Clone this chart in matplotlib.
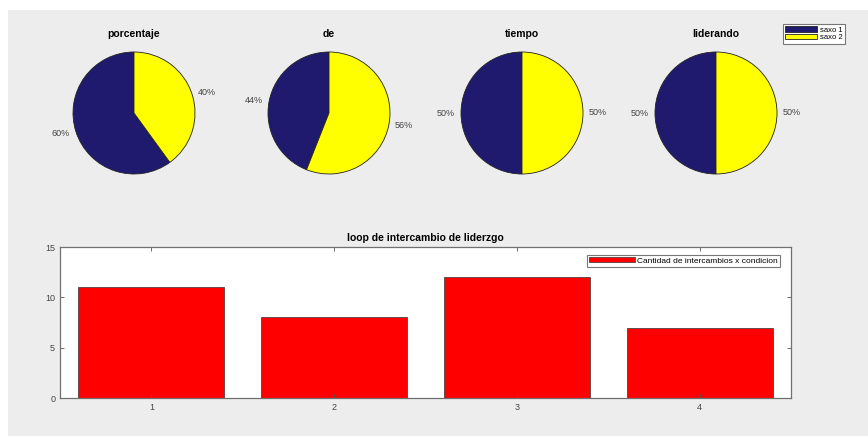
import matplotlib.pyplot as plt
from matplotlib.patches import Rectangle

plt.rcParams['font.family'] = ['Liberation Sans', 'DejaVu Sans']

# datos
titulos = ['porcentaje', 'de', 'tiempo', 'liderando']
saxo1 = [60, 44, 50, 50]
saxo2 = [40, 56, 50, 50]
nombres = ['saxo 1', 'saxo 2']
condiciones = [1, 2, 3, 4]
intercambios = [11, 8, 12, 7]

navy = '#201a6e'
amarillo = '#ffff00'

fig = plt.figure(figsize=(8.68, 4.36), dpi=100, facecolor='white')
# fondo gris (con la franja blanca arriba e izquierda)
fig.patches.append(Rectangle((8 / 868, 0), 1, 1 - 10 / 436, transform=fig.transFigure,
                             facecolor='#ededed', edgecolor='none', zorder=-10))

W, H = 868, 436
centros = [134, 329, 522, 716]
cy, r = 113, 61
for i, cx in enumerate(centros):
    ax = fig.add_axes([(cx - r) / W, 1 - (cy + r) / H, 2 * r / W, 2 * r / H])
    vals = [saxo1[i], saxo2[i]]
    etiquetas = ['%d%%' % v for v in vals]
    wedges, texts = ax.pie(vals, colors=[navy, amarillo], startangle=90, counterclock=True,
                           labels=etiquetas, labeldistance=1.1,
                           wedgeprops=dict(edgecolor='#222222', linewidth=0.6),
                           textprops=dict(fontsize=6.5, color='#444444'))
    for t in texts:
        t.set_clip_on(False)
    ax.set_xlim(-1, 1)
    ax.set_ylim(-1, 1)
    ax.set_aspect('equal')
    ax.set_title(titulos[i], fontsize=7.5, fontweight='bold', pad=11)
    if i == 3:
        leg = fig.legend(wedges, nombres, loc='upper left',
                         bbox_to_anchor=(783 / W, 1 - 24 / H), fontsize=5.5,
                         handlelength=4.2, handleheight=0.7, handletextpad=0.3,
                         labelspacing=0.05, borderpad=0.3, borderaxespad=0,
                         fancybox=False, framealpha=1, edgecolor='#777777',
                         facecolor='white')
        leg.get_frame().set_linewidth(0.8)

# grafico de barras
bx = fig.add_axes([60 / W, 1 - 398 / H, 731 / W, 151 / H])
bx.bar(condiciones, intercambios, width=0.8, color='#ff0000', edgecolor='#333333',
       linewidth=0.5, label='Cantidad de intercambios x condicion')
bx.set_xlim(0.5, 4.5)
bx.set_ylim(0, 15)
bx.set_xticks(condiciones)
bx.set_yticks([0, 5, 10, 15])
bx.tick_params(direction='in', top=True, right=True, labelsize=6.5,
               labelcolor='#444444', color='#555555', length=3, width=0.6)
for s in bx.spines.values():
    s.set_color('#707070')
    s.set_linewidth(0.9)
bx.set_title('loop de intercambio de liderzgo', fontsize=7.5, fontweight='bold', pad=4)
lg = bx.legend(loc='upper right', bbox_to_anchor=(780 / W, 1 - 255 / H),
               bbox_transform=fig.transFigure, fontsize=6, handlelength=5.5,
               handleheight=0.6, handletextpad=0.3, borderpad=0.25, borderaxespad=0,
               fancybox=False, framealpha=1, edgecolor='#777777')
lg.get_frame().set_linewidth(0.8)

fig.savefig('out.png', dpi=100, facecolor=fig.get_facecolor())
